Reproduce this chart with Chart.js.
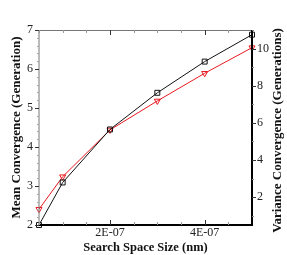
<!DOCTYPE html>
<html>
<head>
<meta charset="utf-8">
<script src="https://cdn.jsdelivr.net/npm/chart.js@4"></script>
<style>
  html, body { margin: 0; padding: 0; background: #fff; }
  #wrap { width: 287px; height: 255px; }
</style>
</head>
<body>
<div id="wrap"><canvas id="myCanvas" width="287" height="255"></canvas></div>
<script>
// values
var sizes = [5e-8, 1e-7, 2e-7, 3e-7, 4e-7, 5e-7];
var meanConv = [2.0, 3.09, 4.45, 5.39, 6.19, 6.88];
var varConv = [1.35, 3.1, 5.62, 7.18, 8.67, 10.05];

var xTicks = [2e-7, 4e-7];
var yTicks = [2, 3, 4, 5, 6, 7];
var y2Ticks = [2, 4, 6, 8, 10];

var rightTitle = 'Variance Convergence (Generations)';

var FONT = "'Liberation Serif', 'Times New Roman', serif";

function fmtE(v) {
    var e = Math.floor(Math.log10(v) + 1e-9);
    var m = Math.round(v / Math.pow(10, e));
    return m + 'E-' + (e < 0 && -e < 10 ? '0' + (-e) : -e);
}

// frame, tick marks (inward on top / bottom, outward on the sides) and the right title
var tickMarks = {
    id: 'tickMarks',
    afterDraw: function(chart) {
        var ctx = chart.ctx, a = chart.chartArea;
        var x = chart.scales.x, y = chart.scales.y, y2 = chart.scales.y2;
        ctx.save();
        ctx.strokeStyle = '#777';
        ctx.lineWidth = 1;
        ctx.beginPath();
        ctx.moveTo(a.left, a.bottom); ctx.lineTo(a.left, a.top + 0.5); ctx.lineTo(a.right, a.top + 0.5);
        ctx.stroke();
        ctx.strokeStyle = '#000';
        ctx.lineWidth = 2;
        ctx.beginPath();
        ctx.moveTo(a.left, a.bottom); ctx.lineTo(a.right, a.bottom); ctx.lineTo(a.right, a.top);
        ctx.stroke();

        ctx.lineWidth = 1;
        var v, px;
        for (var i = 1; i <= 9; i++) {
            v = i * 5e-8;
            px = Math.round(x.getPixelForValue(v)) + 0.5;
            var major = i % 4 === 0;
            var len = major ? 5 : 3;
            ctx.strokeStyle = major ? '#333' : '#999';
            ctx.beginPath();
            ctx.moveTo(px, a.bottom); ctx.lineTo(px, a.bottom - len);
            ctx.moveTo(px, a.top); ctx.lineTo(px, a.top + len);
            ctx.stroke();
        }
        for (v = 2; v <= 7.001; v += 0.2) {
            px = Math.round(y.getPixelForValue(v)) + 0.5;
            var isMaj = Math.abs(v - Math.round(v)) < 0.01;
            ctx.strokeStyle = isMaj ? '#333' : '#aaa';
            ctx.beginPath();
            ctx.moveTo(a.left - (isMaj ? 4 : 2), px); ctx.lineTo(a.left, px);
            ctx.stroke();
        }
        for (v = 1; v <= 11; v += 1) {
            px = Math.round(y2.getPixelForValue(v)) + 0.5;
            var even = v % 2 === 0;
            ctx.strokeStyle = even ? '#333' : '#888';
            ctx.beginPath();
            ctx.moveTo(a.right, px); ctx.lineTo(a.right + (even ? 4 : 2), px);
            ctx.stroke();
        }
        // right title reads bottom to top, like the left one
        ctx.translate(278, (a.top + a.bottom) / 2 + 3);
        ctx.rotate(-Math.PI / 2);
        ctx.fillStyle = '#111';
        ctx.font = 'bold 13px ' + FONT;
        ctx.textAlign = 'center';
        ctx.textBaseline = 'middle';
        ctx.fillText(rightTitle, 0, 0);
        ctx.restore();
    }
};

var config = {
    type: 'line',
    data: {
        datasets: [{
            label: 'Mean',
            data: sizes.map(function(s, i) { return {x: s, y: meanConv[i]}; }),
            yAxisID: 'y',
            borderColor: '#111',
            borderWidth: 1,
            backgroundColor: 'rgba(0,0,0,0)',
            pointStyle: 'rect',
            pointRadius: 3.5,
            pointBorderWidth: 1,
            pointBorderColor: '#111',
            clip: false
        }, {
            label: 'Variance',
            data: sizes.map(function(s, i) { return {x: s, y: varConv[i]}; }),
            yAxisID: 'y2',
            borderColor: '#e8191f',
            borderWidth: 1,
            backgroundColor: 'rgba(0,0,0,0)',
            pointStyle: 'triangle',
            rotation: 180,
            pointRadius: 3.5,
            pointBorderWidth: 1,
            pointBorderColor: '#e8191f',
            clip: false
        }]
    },
    options: {
        responsive: false,
        animation: false,
        layout: { padding: { top: 30, left: 0, right: 0, bottom: 0 } },
        plugins: { legend: { display: false }, tooltip: { enabled: false } },
        scales: {
            x: {
                type: 'linear',
                min: 5e-8,
                max: 5e-7,
                afterBuildTicks: function(s) { s.ticks = xTicks.map(function(v) { return {value: v}; }); },
                afterFit: function(s) { s.height = 30; },
                grid: { display: false, drawTicks: false },
                border: { display: false },
                ticks: {
                    color: '#222',
                    font: { family: FONT, size: 12 },
                    padding: 1,
                    maxRotation: 0,
                    callback: function(v) { return fmtE(v); }
                },
                title: {
                    display: true,
                    text: 'Search Space Size (nm)',
                    color: '#111',
                    font: { family: FONT, size: 12.5, weight: 'bold' },
                    padding: 0
                }
            },
            y: {
                position: 'left',
                min: 2,
                max: 7,
                afterBuildTicks: function(s) { s.ticks = yTicks.map(function(v) { return {value: v}; }); },
                afterFit: function(s) { s.width = 39; },
                grid: { display: false, drawTicks: false },
                border: { display: false },
                ticks: {
                    color: '#222',
                    font: { family: FONT, size: 12 },
                    padding: 6
                },
                title: {
                    display: true,
                    text: 'Mean Convergence (Generation)',
                    color: '#111',
                    font: { family: FONT, size: 13, weight: 'bold' },
                    padding: { top: 9, bottom: 0 }
                }
            },
            y2: {
                position: 'right',
                min: 0.5,
                max: 11,
                afterBuildTicks: function(s) { s.ticks = y2Ticks.map(function(v) { return {value: v}; }); },
                afterFit: function(s) { s.width = 35; },
                grid: { display: false, drawTicks: false },
                border: { display: false },
                ticks: {
                    color: '#222',
                    font: { family: FONT, size: 12 },
                    padding: 5
                },
                title: { display: false }
            }
        }
    },
    plugins: [tickMarks]
};

window.myChart = new Chart(document.getElementById('myCanvas').getContext('2d'), config);
</script>
</body>
</html>
